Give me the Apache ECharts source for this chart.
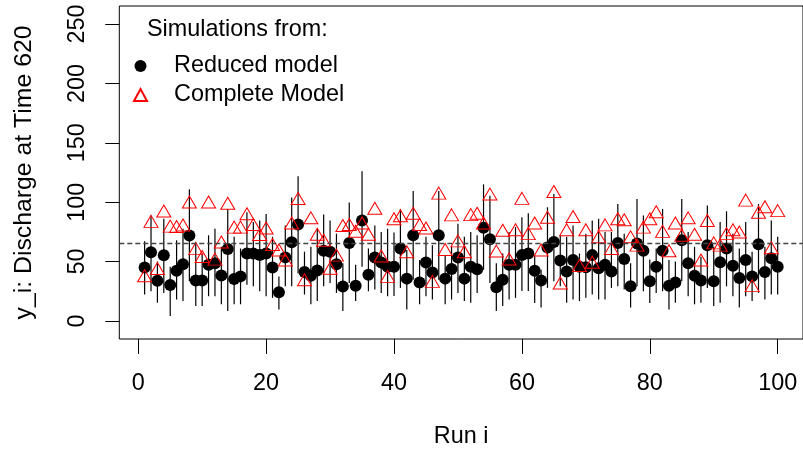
<!DOCTYPE html>
<html>
<head>
<meta charset="utf-8">
<script src="https://cdn.jsdelivr.net/npm/echarts@6/dist/echarts.min.js"></script>
<style>
html,body{margin:0;padding:0;background:#fff;}
#chart{width:803px;height:453px;}
</style>
</head>
<body>
<div id="chart"></div>
<script>
// Run index 1..100
const runs = [];
for (let i = 1; i <= 100; i++) runs.push(i);

// Reduced model simulations (black dots)
const reduced = [
45.0,57.9,33.8,55.2,30.2,42.2,47.8,71.9,34.1,34.1,
47.2,48.6,38.3,60.5,35.3,37.5,56.8,56.8,55.4,56.8,
45.0,24.2,53.5,66.3,81.2,41.1,38.0,42.4,59.1,58.3,
47.8,28.9,65.7,29.7,84.6,38.9,53.3,49.1,45.7,45.7,
61.0,35.6,72.1,32.4,49.1,40.8,72.1,35.6,43.8,53.3,
35.6,45.7,43.5,78.5,68.7,28.3,34.6,47.2,47.2,55.4,
56.8,42.2,34.1,61.9,66.5,50.8,41.6,51.3,45.7,45.2,
55.4,44.4,47.2,41.6,65.7,52.1,29.1,65.2,59.1,33.3,
45.7,59.1,29.7,32.4,67.9,48.6,38.0,34.1,63.8,33.3,
49.4,61.0,46.4,36.1,51.3,37.5,64.6,41.1,52.7,45.7
];

// Lower / upper end of the vertical bars around the reduced-model dots
const barLow = [
22.2,25.0,15.3,23.6,4.2,18.0,16.7,33.3,12.6,12.6,
20.8,20.8,14.0,8.3,14.0,14.0,30.5,29.1,25.0,20.8,
19.4,9.7,29.1,29.1,40.2,22.2,14.0,16.7,29.1,31.9,
23.6,8.3,31.9,16.7,45.7,25.0,26.4,23.6,20.8,21.0,
27.8,9.7,34.6,14.0,20.8,18.0,34.6,14.0,18.0,23.6,
16.7,15.3,23.6,43.0,31.9,8.3,12.6,18.0,19.4,25.1,
25.1,15.0,11.2,27.8,33.3,29.1,15.3,18.0,16.7,19.4,
22.2,18.0,18.0,27.8,29.1,26.4,11.2,29.1,25.0,15.0,
23.6,25.0,9.7,15.3,33.3,20.8,14.0,15.3,27.8,12.6,
15.3,29.1,20.8,11.2,20.8,16.7,23.6,18.0,22.2,22.2
];
const barHigh = [
67.1,88.7,50.0,86.0,45.7,67.9,77.6,110.9,66.5,56.8,
72.1,77.6,62.4,94.3,70.8,61.0,91.5,83.2,84.6,90.1,
70.8,37.5,80.4,103.9,121.9,58.3,62.4,77.6,89.6,84.6,
73.5,48.6,99.8,47.2,126.1,61.0,80.4,74.9,77.6,74.5,
94.3,59.7,109.5,51.3,70.8,63.8,109.5,55.4,62.4,81.8,
70.8,74.9,72.1,115.0,105.3,48.6,56.8,74.9,79.0,87.3,
90.6,55.0,43.0,95.7,106.8,72.1,70.8,80.4,56.8,73.5,
84.6,86.0,74.9,74.9,98.4,73.5,48.6,102.6,88.7,51.8,
61.0,94.3,51.3,50.0,102.6,74.9,62.4,54.1,97.1,62.4,
83.2,92.3,73.5,61.0,83.2,58.3,98.4,62.4,84.6,70.8
];

// Complete model simulations (red triangles)
const complete = [
38.0,83.8,44.1,92.6,79.8,79.5,80.8,100.2,60.9,54.3,
100.2,52.0,66.4,99.1,79.0,79.0,90.2,81.2,72.8,78.3,
64.4,59.7,51.3,82.4,103.1,34.6,86.8,73.0,67.9,44.4,
55.4,80.4,81.2,75.5,82.4,73.0,94.9,54.6,37.5,86.0,
88.6,58.3,90.7,81.2,78.2,33.3,107.6,60.2,89.3,67.4,
58.3,89.5,90.6,82.4,106.8,58.8,76.3,52.1,76.8,103.2,
73.5,82.4,59.7,87.3,109.0,31.9,76.8,87.9,46.6,76.8,
49.4,70.8,80.9,61.0,86.0,85.2,70.8,63.8,79.0,86.0,
91.9,75.4,59.1,82.4,72.1,86.8,73.0,51.3,84.6,65.7,
63.8,73.5,76.8,74.9,101.7,29.7,91.5,96.2,61.6,92.9
];

const refLevel = 65.7;
const xTicks = [0, 20, 40, 60, 80, 100];
const yTicks = [0, 50, 100, 150, 200, 250];

const FONT = 'Liberation Sans, Arial, Helvetica, sans-serif';

const barData = runs.map((r, k) => [r, barLow[k], barHigh[k]]);
const redData = runs.map((r, k) => [r, reduced[k]]);
const compData = runs.map((r, k) => [r, complete[k]]);

const chart = echarts.init(document.getElementById('chart'), null, {renderer: 'canvas', width: 803, height: 453});

chart.setOption({
  animation: false,
  backgroundColor: '#ffffff',
  title: {
    text: 'Simulations from:',
    left: 147, top: 18, padding: 0,
    textStyle: {fontFamily: FONT, fontSize: 23.4, fontWeight: 'normal', color: '#000', lineHeight: 24}
  },
  legend: {
    orient: 'vertical',
    left: 133, top: 54, padding: 0,
    itemWidth: 13, itemHeight: 12, itemGap: 5,
    data: ['Reduced model', 'Complete Model'],
    formatter: '{t|{name}}',
    textStyle: {
      fontFamily: FONT, fontSize: 23.4, color: '#000', lineHeight: 24,
      rich: {t: {fontFamily: FONT, fontSize: 23.4, color: '#000', lineHeight: 24, padding: [0, 0, 0, 22]}}
    }
  },
  grid: {
    left: 119.3, top: 6, width: 685.2, height: 337.3,
    show: true, borderColor: '#000', borderWidth: 1, backgroundColor: 'transparent'
  },
  xAxis: {
    type: 'value', min: -2.96, max: 103.96,
    name: 'Run i', nameLocation: 'middle', nameGap: 86,
    nameTextStyle: {fontFamily: FONT, fontSize: 23.4, color: '#000'},
    axisLine: {show: false, onZero: false},
    axisTick: {show: true, inside: false, customValues: xTicks, length: 15, lineStyle: {color: '#000', width: 1}},
    axisLabel: {customValues: xTicks, margin: 33, fontFamily: FONT, fontSize: 23.4, color: '#000'},
    splitLine: {show: false}
  },
  yAxis: {
    type: 'value', min: -15.24, max: 265.2,
    name: 'y_i: Discharge at Time 620', nameLocation: 'middle', nameGap: 83, nameRotate: 90,
    nameTextStyle: {fontFamily: FONT, fontSize: 24.8, color: '#000'},
    axisLine: {show: false, onZero: false},
    axisTick: {show: true, inside: false, customValues: yTicks, length: 14, lineStyle: {color: '#000', width: 1}},
    axisLabel: {customValues: yTicks, rotate: 90, margin: 30, fontFamily: FONT, fontSize: 23.4, color: '#000'},
    splitLine: {show: false}
  },
  series: [
    {
      name: 'bars', type: 'custom', data: barData, z: 1,
      renderItem: function (params, api) {
        const x = api.value(0);
        const p1 = api.coord([x, api.value(1)]);
        const p2 = api.coord([x, api.value(2)]);
        return {type: 'line', shape: {x1: p1[0], y1: p1[1], x2: p2[0], y2: p2[1]},
                style: {stroke: '#000', lineWidth: 1.2}};
      },
      markLine: {
        silent: true, symbol: 'none', label: {show: false},
        lineStyle: {color: '#444', type: [5, 3], width: 1.3},
        data: [{yAxis: refLevel}]
      }
    },
    {
      name: 'Reduced model', type: 'scatter', data: redData, z: 2,
      symbol: 'circle', symbolSize: 12,
      itemStyle: {color: '#000', opacity: 1}
    },
    {
      name: 'Complete Model', type: 'scatter', data: compData, z: 3,
      symbol: 'triangle', symbolSize: [14, 12],
      itemStyle: {color: 'rgba(255,255,255,0)', borderColor: '#ff0000', borderWidth: 1, opacity: 1}
    }
  ]
});
</script>
</body>
</html>
